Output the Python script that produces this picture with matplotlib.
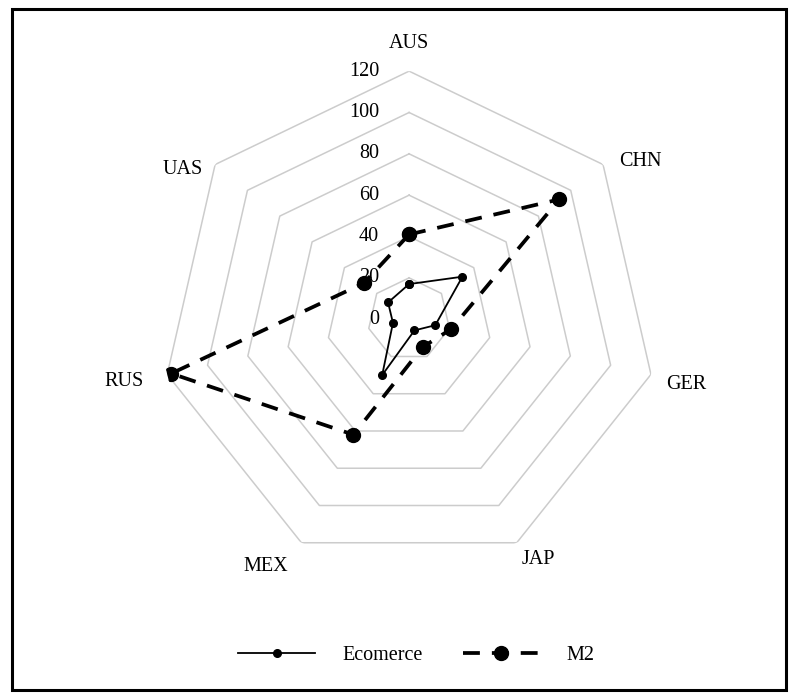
import numpy as np
import matplotlib
matplotlib.use("Agg")
import matplotlib.pyplot as plt
from matplotlib.patches import Rectangle
from matplotlib.lines import Line2D
from matplotlib.transforms import offset_copy

categories = ["AUS", "CHN", "GER", "JAP", "MEX", "RUS", "UAS"]
ecomerce = [17, 33, 13, 6, 30, 8, 13]
m2 = [41, 93, 21, 15, 62, 118, 28]
ring_values = [0, 20, 40, 60, 80, 100, 120]

# pixel nudges for the category labels (layout only)
label_nudge = {"AUS": (0, -1), "CHN": (15, -15), "GER": (7, -4),
               "JAP": (9, 9), "MEX": (-23, 2), "RUS": (-15, -1),
               "UAS": (-10, -23)}

plt.rcParams["font.family"] = ["Liberation Serif", "DejaVu Serif"]
fs = 14.5

fig = plt.figure(figsize=(7.99, 6.97), dpi=100)
ax = fig.add_axes([0.2015, 0.186, 0.621, 0.712], projection="polar")
ax.set_theta_zero_location("N")
ax.set_theta_direction(-1)
ax.set_ylim(0, 120)
ax.grid(False)
ax.spines["polar"].set_visible(False)
ax.set_xticks([])
ax.set_yticks([])
ax.patch.set_alpha(0)

n = len(categories)
angles = np.linspace(0, 2 * np.pi, n, endpoint=False)
closed = np.append(angles, angles[0])

# heptagon grid rings
for v in ring_values[1:]:
    ax.plot(closed, [v] * (n + 1), color="#cccccc", lw=1.1, zorder=1)

# radial value labels left of the AUS spoke
lab_tr = offset_copy(ax.transData, fig=fig, x=-30, y=0, units="dots")
for v in ring_values:
    ax.text(0, v, str(v), ha="right", va="center", fontsize=fs,
            transform=lab_tr, zorder=2)

# category labels
for a, c in zip(angles, categories):
    dx, dy = label_nudge[c]
    tr = offset_copy(ax.transData, fig=fig, x=dx, y=dy, units="dots")
    ax.text(a, 134, c, ha="center", va="center", fontsize=fs, transform=tr)

e_vals = np.append(ecomerce, ecomerce[0])
m_vals = np.append(m2, m2[0])
dash = (0, (4.5, 3.2))
ax.plot(closed, m_vals, color="black", lw=2.7, linestyle=dash,
        marker="o", markersize=10, zorder=3)
ax.plot(closed, e_vals, color="black", lw=1.3, marker="o",
        markersize=5.5, zorder=4)

handles = [
    Line2D([], [], color="black", lw=1.3, marker="o", markersize=5.5),
    Line2D([], [], color="black", lw=2.7, linestyle=dash,
           marker="o", markersize=10),
]
fig.legend(handles, ["Ecomerce", "M2"], loc="center", ncol=2,
           bbox_to_anchor=(0.521, 0.06), frameon=False, fontsize=fs,
           handlelength=3.8, numpoints=1, columnspacing=2.0,
           handletextpad=1.35)

# outer frame
fig.patches.append(Rectangle((12 / 799, 1 - 690 / 697), 774 / 799, 681 / 697,
                             transform=fig.transFigure, fill=False,
                             edgecolor="black", lw=2.2))

fig.savefig("out.png", dpi=100)
